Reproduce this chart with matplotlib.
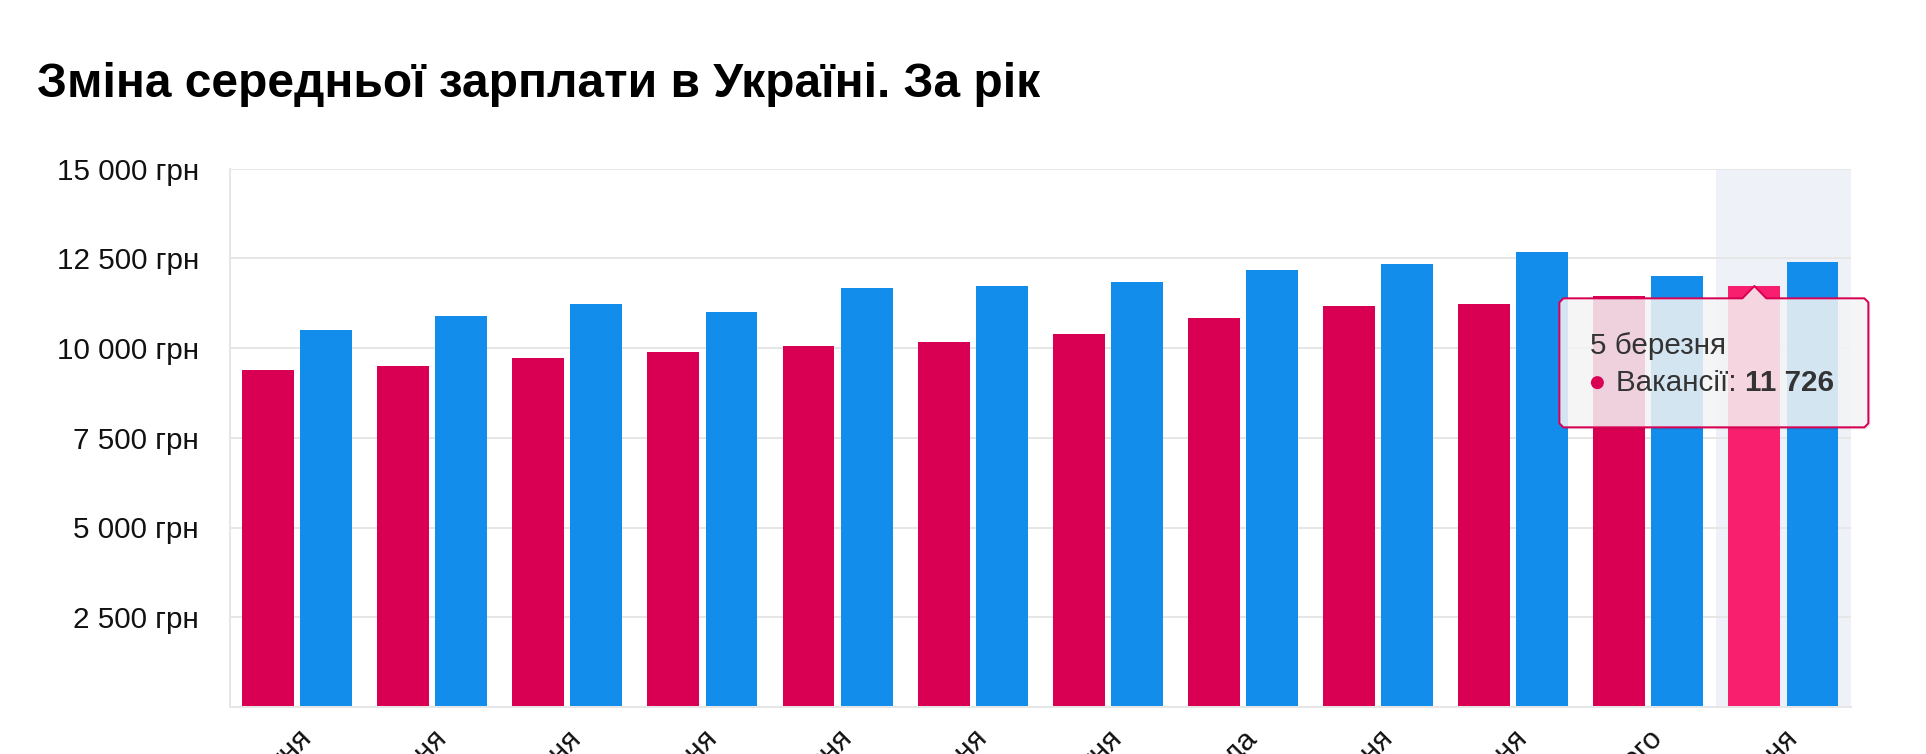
import matplotlib.pyplot as plt
from matplotlib.patches import Polygon, Circle
from matplotlib.transforms import IdentityTransform
import numpy as np

plt.rcParams['font.family'] = ['Liberation Sans', 'DejaVu Sans']

# дані
categories = ['5 квітня', '5 травня', '5 червня', '5 липня', '5 серпня', '5 вересня',
              '5 жовтня', '5 листопада', '5 грудня', '5 січня', '5 лютого', '5 березня']
vacancies = [9387, 9499, 9721, 9889, 10056, 10167, 10390, 10836, 11170, 11226, 11448, 11726]
resumes = [10501, 10891, 11226, 11003, 11671, 11727, 11838, 12173, 12340, 12674, 12006, 12396]
yticks = [2500, 5000, 7500, 10000, 12500, 15000]
title = 'Зміна середньої зарплати в Україні. За рік'
series_name = 'Вакансії'

RED = '#d90054'
RED_HOVER = '#f8206e'
BLUE = '#138dec'
GRID = '#e6e6e6'

W, H = 1926, 754
fig = plt.figure(figsize=(W / 100, H / 100), dpi=100)
ax = fig.add_axes([229.5 / W, 1 - 707 / H, (1851 - 229.5) / W, (707 - 168.5) / H])

x = np.arange(len(categories))
hover = len(categories) - 1
red_colors = [RED_HOVER if i == hover else RED for i in x]

ax.axvspan(hover - 0.5, hover + 0.5, color='#eef1f8', zorder=0, lw=0)
ax.bar(x - 0.215, vacancies, width=0.384, color=red_colors, zorder=3)
ax.bar(x + 0.215, resumes, width=0.384, color=BLUE, zorder=3)

ax.set_xlim(-0.5, len(categories) - 0.5)
ax.set_ylim(0, 15000)
ax.set_yticks(yticks)
ax.set_yticklabels([f'{v:,}'.replace(',', ' ') + ' грн' for v in yticks])
ax.yaxis.grid(True, color=GRID, lw=1.44, zorder=1)
ax.set_axisbelow(True)
ax.tick_params(axis='y', length=0, pad=22, labelsize=21.3, labelcolor='#111')
ax.set_xticks(x)
ax.set_xticklabels(categories)
ax.tick_params(axis='x', length=0, pad=13, labelsize=21.3, labelcolor='#111')
plt.setp(ax.get_xticklabels(), rotation=45, ha='right', va='top', rotation_mode='anchor')

for s in ['top', 'right']:
    ax.spines[s].set_visible(False)
for s in ['left', 'bottom']:
    ax.spines[s].set_color(GRID)
    ax.spines[s].set_linewidth(1.44)
    ax.spines[s].set_zorder(4)

fig.text(36.7 / W, 1 - 96.7 / H, title, fontsize=34.5, fontweight='bold',
         ha='left', va='baseline', color='#000')

# підказка (tooltip) над наведеним стовпчиком
fig.canvas.draw()
ax_x, ax_y = ax.transData.transform((hover - 0.215, vacancies[hover]))
L, R = ax_x - 195, ax_x + 114
T, B = ax_y - 12.3, ax_y - 141.3
r = 4
pts = [(L + r, T), (ax_x - 12, T), (ax_x, ax_y), (ax_x + 12, T), (R - r, T), (R, T - r),
       (R, B + r), (R - r, B), (L + r, B), (L, B + r), (L, T - r)]
shadow = Polygon([(px + 2, py - 2) for px, py in pts], closed=True, transform=IdentityTransform(),
                 facecolor=(0, 0, 0, 0.08), edgecolor='none', zorder=9)
box = Polygon(pts, closed=True, transform=IdentityTransform(),
              facecolor=(0.969, 0.969, 0.969, 0.85), edgecolor=RED, lw=1.44,
              joinstyle='round', zorder=10)
fig.add_artist(shadow)
fig.add_artist(box)
fig.add_artist(Circle((ax_x - 157, ax_y - 96.6), 6.5, transform=IdentityTransform(),
                      facecolor=RED, edgecolor='none', zorder=11))
fig.text(ax_x - 164.5, ax_y - 68.3, categories[hover], transform=IdentityTransform(),
         fontsize=21.3, color='#333', ha='left', va='baseline', zorder=11)
t = fig.text(ax_x - 138.5, ax_y - 105, series_name + ': ', transform=IdentityTransform(),
             fontsize=21.3, color='#333', ha='left', va='baseline', zorder=11)
ext = t.get_window_extent(renderer=fig.canvas.get_renderer())
fig.text(ext.x1, ax_y - 105, f'{vacancies[hover]:,}'.replace(',', ' '), transform=IdentityTransform(),
         fontsize=21.3, fontweight='bold', color='#333', ha='left', va='baseline', zorder=11)

fig.savefig('out.png', dpi=100)
